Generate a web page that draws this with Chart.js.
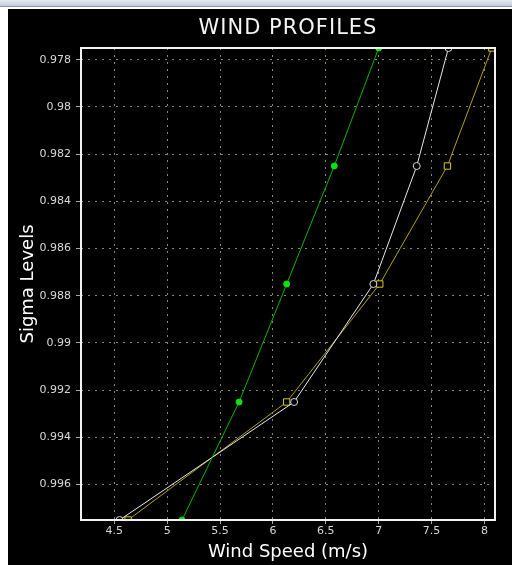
<!DOCTYPE html>
<html>
<head>
<meta charset="utf-8">
<script src="https://cdn.jsdelivr.net/npm/chart.js@4"></script>
<style>
  body { margin: 0; background: #ffffff; width: 512px; height: 565px; overflow: hidden; position: relative; }
  .topbar { position: absolute; left: 0; top: 0; width: 512px; height: 6px; background: linear-gradient(#e4e8f0, #c4cbda); border-bottom: 1px solid #8c96ac; }
  .plot-box { position: absolute; left: 8px; top: 9px; width: 504px; height: 556px; background: #000000; }
</style>
</head>
<body>
<div class="topbar"></div>
<div class="plot-box"><canvas id="grafico" width="504" height="556"></canvas></div>
<script>
// sigma levels (y) and wind speeds (x) for the three profiles
const sigmaLevels = [0.9775, 0.9825, 0.9875, 0.9925, 0.9975];
const greenSpeeds = [7.0, 6.58, 6.13, 5.68, 5.14];
const whiteSpeeds = [7.66, 7.36, 6.95, 6.20, 4.55];
const yellowSpeeds = [8.07, 7.65, 7.01, 6.13, 4.63];

const xTicks = [4.5, 5, 5.5, 6, 6.5, 7, 7.5, 8];
const yTicks = [0.978, 0.98, 0.982, 0.984, 0.986, 0.988, 0.99, 0.992, 0.994, 0.996];

const toPoints = (speeds) => speeds.map((v, i) => ({ x: v, y: sigmaLevels[i] }));

// title over the plot area + white frame around it
const marcoPlugin = {
  id: "marco",
  afterDatasetsDraw(chart) {
    const { ctx, chartArea } = chart;
    ctx.save();
    ctx.strokeStyle = "#f2f2f2";
    ctx.lineWidth = 2;
    ctx.strokeRect(chartArea.left, chartArea.top, chartArea.right - chartArea.left, chartArea.bottom - chartArea.top);
    ctx.fillStyle = "#f4f4f4";
    ctx.font = "21px 'DejaVu Sans'";
    ctx.letterSpacing = "1px";
    ctx.textAlign = "center";
    ctx.textBaseline = "middle";
    ctx.fillText("WIND PROFILES", (chartArea.left + chartArea.right) / 2, 20);
    ctx.restore();
  }
};

const ctx = document.getElementById("grafico");
new Chart(ctx, {
  type: "scatter",
  data: {
    datasets: [
      {
        label: "Profile 1",
        data: toPoints(greenSpeeds),
        showLine: true,
        borderColor: "#00b400",
        borderWidth: 1,
        backgroundColor: "#10e010",
        pointBackgroundColor: "#10e010",
        pointBorderColor: "#10e010",
        pointRadius: 3,
        pointStyle: "circle"
      },
      {
        label: "Profile 2",
        data: toPoints(whiteSpeeds),
        showLine: true,
        borderColor: "#e8e8e8",
        borderWidth: 1,
        backgroundColor: "#000000",
        pointBackgroundColor: "#000000",
        pointBorderColor: "#d8d8d8",
        pointBorderWidth: 1,
        pointRadius: 3.5,
        pointStyle: "circle"
      },
      {
        label: "Profile 3",
        data: toPoints(yellowSpeeds),
        showLine: true,
        borderColor: "#b0a010",
        borderWidth: 1,
        backgroundColor: "#000000",
        pointBackgroundColor: "#000000",
        pointBorderColor: "#d8c820",
        pointBorderWidth: 1,
        pointRadius: 4.5,
        pointStyle: "rect"
      }
    ]
  },
  options: {
    responsive: false,
    animation: false,
    events: [],
    layout: { padding: { top: 39, right: 17, bottom: 0, left: 0 } },
    plugins: {
      legend: { display: false },
      tooltip: { enabled: false }
    },
    scales: {
      x: {
        type: "linear",
        position: "bottom",
        min: 4.185,
        max: 8.1,
        afterFit: (scale) => { scale.height = 45; },
        afterBuildTicks: (scale) => { scale.ticks = xTicks.map(v => ({ value: v })); },
        ticks: {
          color: "#d8d8d8",
          font: { family: "DejaVu Sans", size: 11 },
          padding: 1,
          maxRotation: 0,
          autoSkip: false,
          callback: (v) => String(v)
        },
        grid: { color: "#8a8a68", lineWidth: 1, tickLength: 4, tickColor: "#a8a8a0" },
        border: { display: false, dash: [2, 5] },
        title: {
          display: true,
          text: "Wind Speed (m/s)",
          color: "#ffffff",
          font: { family: "DejaVu Sans", size: 18 },
          padding: { top: 0, bottom: 2 }
        }
      },
      y: {
        type: "linear",
        position: "left",
        reverse: true,
        min: 0.9775,
        max: 0.9975,
        afterFit: (scale) => { scale.width = 73; },
        afterBuildTicks: (scale) => { scale.ticks = yTicks.map(v => ({ value: v })); },
        ticks: {
          color: "#d8d8d8",
          font: { family: "DejaVu Sans", size: 11 },
          padding: 5,
          autoSkip: false,
          callback: (v) => String(Math.round(v * 1000) / 1000)
        },
        grid: { color: "#8a8a68", lineWidth: 1, tickLength: 5, tickColor: "#a8a8a0" },
        border: { display: false, dash: [2, 5] },
        title: {
          display: true,
          text: "Sigma Levels",
          color: "#ffffff",
          font: { family: "DejaVu Sans", size: 18 },
          padding: { top: 10, bottom: 0 }
        }
      }
    }
  },
  plugins: [marcoPlugin]
});
</script>
</body>
</html>
